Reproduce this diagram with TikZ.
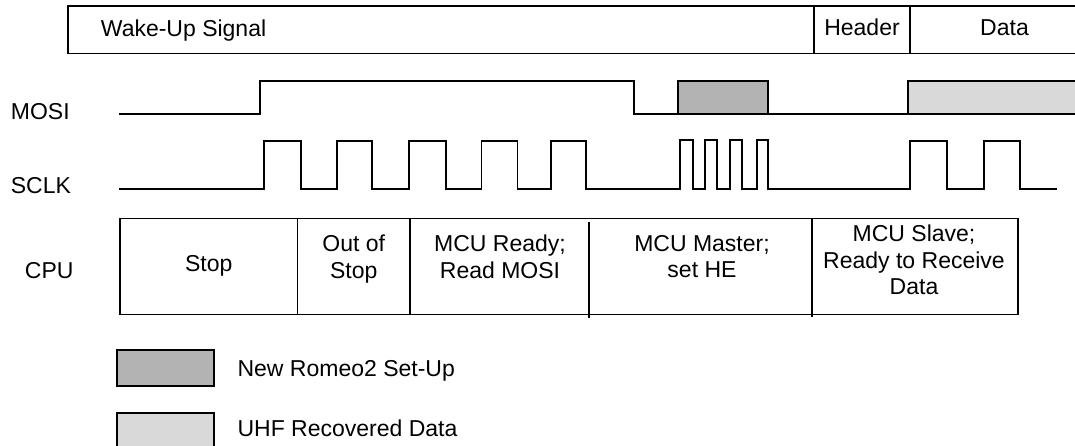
\documentclass[tikz,border=0pt]{standalone}
\usepackage{fontspec}
\setmainfont{Liberation Sans}
\definecolor{gdark}{HTML}{B3B3B3}
\definecolor{glight}{HTML}{D9D9D9}
\begin{document}
\begin{tikzpicture}[x=1pt,y=-1pt,line width=1.8pt,
  lbl/.style={font=\fontsize{23}{26.7}\selectfont, inner sep=0pt},
  cell/.style={lbl, align=center},
  wave/.style={line width=1.8pt, line join=miter}]
\useasboundingbox (0,0) rectangle (1075,446);
\begin{scope}
\clip (0,0) rectangle (1075,446);
% frame row
\draw (68,5.7) rectangle (1100,53.5);
\draw (814,5.7) -- (814,53.5);
\draw (910,5.7) -- (910,53.5);
\node[lbl, anchor=base west] (wake) at (100,36.2) {Wake-Up Signal};
\node[lbl, anchor=base] (hdr) at (862,36) {Header};
\node[lbl, anchor=base] (dat) at (1004.5,36) {Data};
% labels
\node[lbl, anchor=base west] (mosil) at (10,120) {MOSI};
\node[lbl, anchor=base west] (sclkl) at (10,194) {SCLK};
\node[lbl, anchor=base west] (cpul) at (24,278.3) {CPU};
% MOSI
\draw[wave] (119,114.3) -- (260,114.3) -- (260,81) -- (634,81) -- (634,114.3) -- (1100,114.3);
\draw[wave, fill=gdark] (677.7,81) rectangle (768,114.3);
\draw[wave, fill=glight] (908.3,81) rectangle (1100,114.3);
% SCLK
\draw[wave] (119,189)
 -- (264.3,189) -- (264.3,141) -- (300.7,141) -- (300.7,189)
 -- (336.7,189) -- (336.7,141) -- (372.3,141) -- (372.3,189)
 -- (409,189) -- (409,141) -- (446,141) -- (446,189)
 -- (481.5,189) -- (481.5,141) -- (517.5,141) -- (517.5,189)
 -- (550.7,189) -- (550.7,141) -- (585.7,141) -- (585.7,189)
 -- (680,189) -- (680,140) -- (692.7,140) -- (692.7,189)
 -- (705,189) -- (705,140) -- (716.7,140) -- (716.7,189)
 -- (730,189) -- (730,140) -- (742,140) -- (742,189)
 -- (756.7,189) -- (756.7,140) -- (768,140) -- (768,189)
 -- (910,189) -- (910,141) -- (947.3,141) -- (947.3,189)
 -- (984,189) -- (984,141) -- (1020,141) -- (1020,189)
 -- (1056.7,189);
% CPU row
\draw (120,218.5) rectangle (1017.7,314.5);
\draw (297.5,218.5) -- (297.5,314.5);
\draw (410,218.5) -- (410,314.5);
\draw (589,221.7) -- (589,317.5);
\draw (812.3,218.5) -- (812.3,317);
\node[lbl, anchor=base] (c1) at (208.8,271) {Stop};
\node[cell] (c2) at (353.7,258.75) {Out of\\Stop};
\node[cell] (c3) at (500,256.5) {MCU Ready;\\Read MOSI};
\node[cell] (c4) at (702,256.5) {MCU Master;\\set HE};
\node[cell] (c5) at (914,259.85) {MCU Slave;\\Ready to Receive\\Data};
% legend
\draw[fill=gdark] (117.3,350) rectangle (214.3,385.7);
\draw[fill=glight] (117.3,413.3) rectangle (214.3,460);
\node[lbl, anchor=base west] (leg1) at (236.7,376) {New Romeo2 Set-Up};
\node[lbl, anchor=base west] (leg2) at (236.7,436.7) {UHF Recovered Data};
\end{scope}
\end{tikzpicture}
\end{document}
